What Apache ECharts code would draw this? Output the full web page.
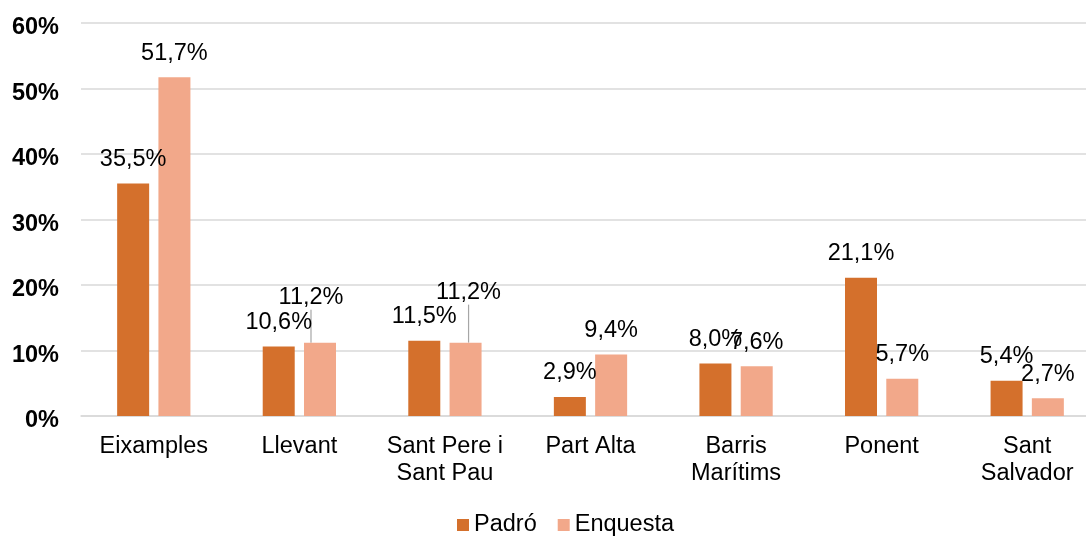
<!DOCTYPE html>
<html>
<head>
<meta charset="utf-8">
<script src="https://cdn.jsdelivr.net/npm/echarts@6/dist/echarts.min.js"></script>
<style>
  html, body { margin: 0; padding: 0; background: #fff; overflow: hidden; }
  /* l'àrea de dibuix de l'original queda retallada per la dreta */
  #main { width: 1100px; height: 536px; }
</style>
</head>
<body>
<div id="main"></div>
<script>
var categories = ["Eixamples", "Llevant", "Sant Pere i\nSant Pau", "Part Alta", "Barris\nMarítims", "Ponent", "Sant\nSalvador"];
var padro = [35.5, 10.6, 11.5, 2.9, 8.0, 21.1, 5.4];
var enquesta = [51.7, 11.2, 11.2, 9.4, 7.6, 5.7, 2.7];
var yTicks = [0, 10, 20, 30, 40, 50, 60];

// etiquetes mogudes a mà (com a l'Excel), amb línia guia
var labelShift = {
  1: [-9, -21],
  2: [3, -26]
};

var chart = echarts.init(document.getElementById("main"));
var FONT = "Liberation Sans, Arial";

function fmt(v) {
  return v.toFixed(1).replace(".", ",") + "%";
}

var labelStyle = {
  show: true,
  position: "top",
  distance: 12,
  fontFamily: FONT,
  fontSize: 23.5,
  color: "#000",
  formatter: function (p) { return fmt(p.value); }
};

var enquestaData = enquesta.map(function (v, i) {
  return { value: v, labelLine: { show: !!labelShift[i] } };
});

var option = {
  animation: false,
  grid: { left: 81, right: 0, top: 23, bottom: 120, containLabel: false },
  legend: {
    top: 508,
    left: 452,
    itemWidth: 12,
    itemHeight: 12,
    itemGap: 21,
    icon: "rect",
    textStyle: { fontFamily: FONT, fontSize: 23.5, color: "#000" },
    data: ["Padró", "Enquesta"]
  },
  xAxis: {
    type: "category",
    data: categories,
    axisTick: { show: false },
    axisLine: { lineStyle: { color: "#d9d9d9", width: 1.5 } },
    axisLabel: {
      fontFamily: FONT,
      fontSize: 23.5,
      color: "#000",
      lineHeight: 27,
      margin: 17,
      interval: 0
    }
  },
  yAxis: {
    type: "value",
    min: yTicks[0],
    max: yTicks[yTicks.length - 1],
    interval: 10,
    axisLine: { show: false },
    axisTick: { show: false },
    splitLine: { lineStyle: { color: "#d9d9d9", width: 1.5 } },
    axisLabel: {
      fontFamily: FONT,
      fontSize: 23.5,
      fontWeight: "bold",
      color: "#000",
      margin: 22,
      verticalAlign: "top",
      lineHeight: 10,
      formatter: "{value}%"
    }
  },
  series: [
    {
      name: "Padró",
      type: "bar",
      data: padro,
      barWidth: 32,
      barGap: "29%",
      itemStyle: { color: "#D4702C" },
      label: labelStyle
    },
    {
      name: "Enquesta",
      type: "bar",
      data: enquestaData,
      barWidth: 32,
      barGap: "29%",
      itemStyle: { color: "#F2A88A" },
      label: labelStyle,
      labelLine: { lineStyle: { color: "#a6a6a6", width: 1.2 } },
      labelLayout: function (p) {
        var s = labelShift[p.dataIndex];
        if (!s) return {};
        return { dx: s[0], dy: s[1] };
      }
    }
  ]
};

chart.setOption(option);
</script>
</body>
</html>
